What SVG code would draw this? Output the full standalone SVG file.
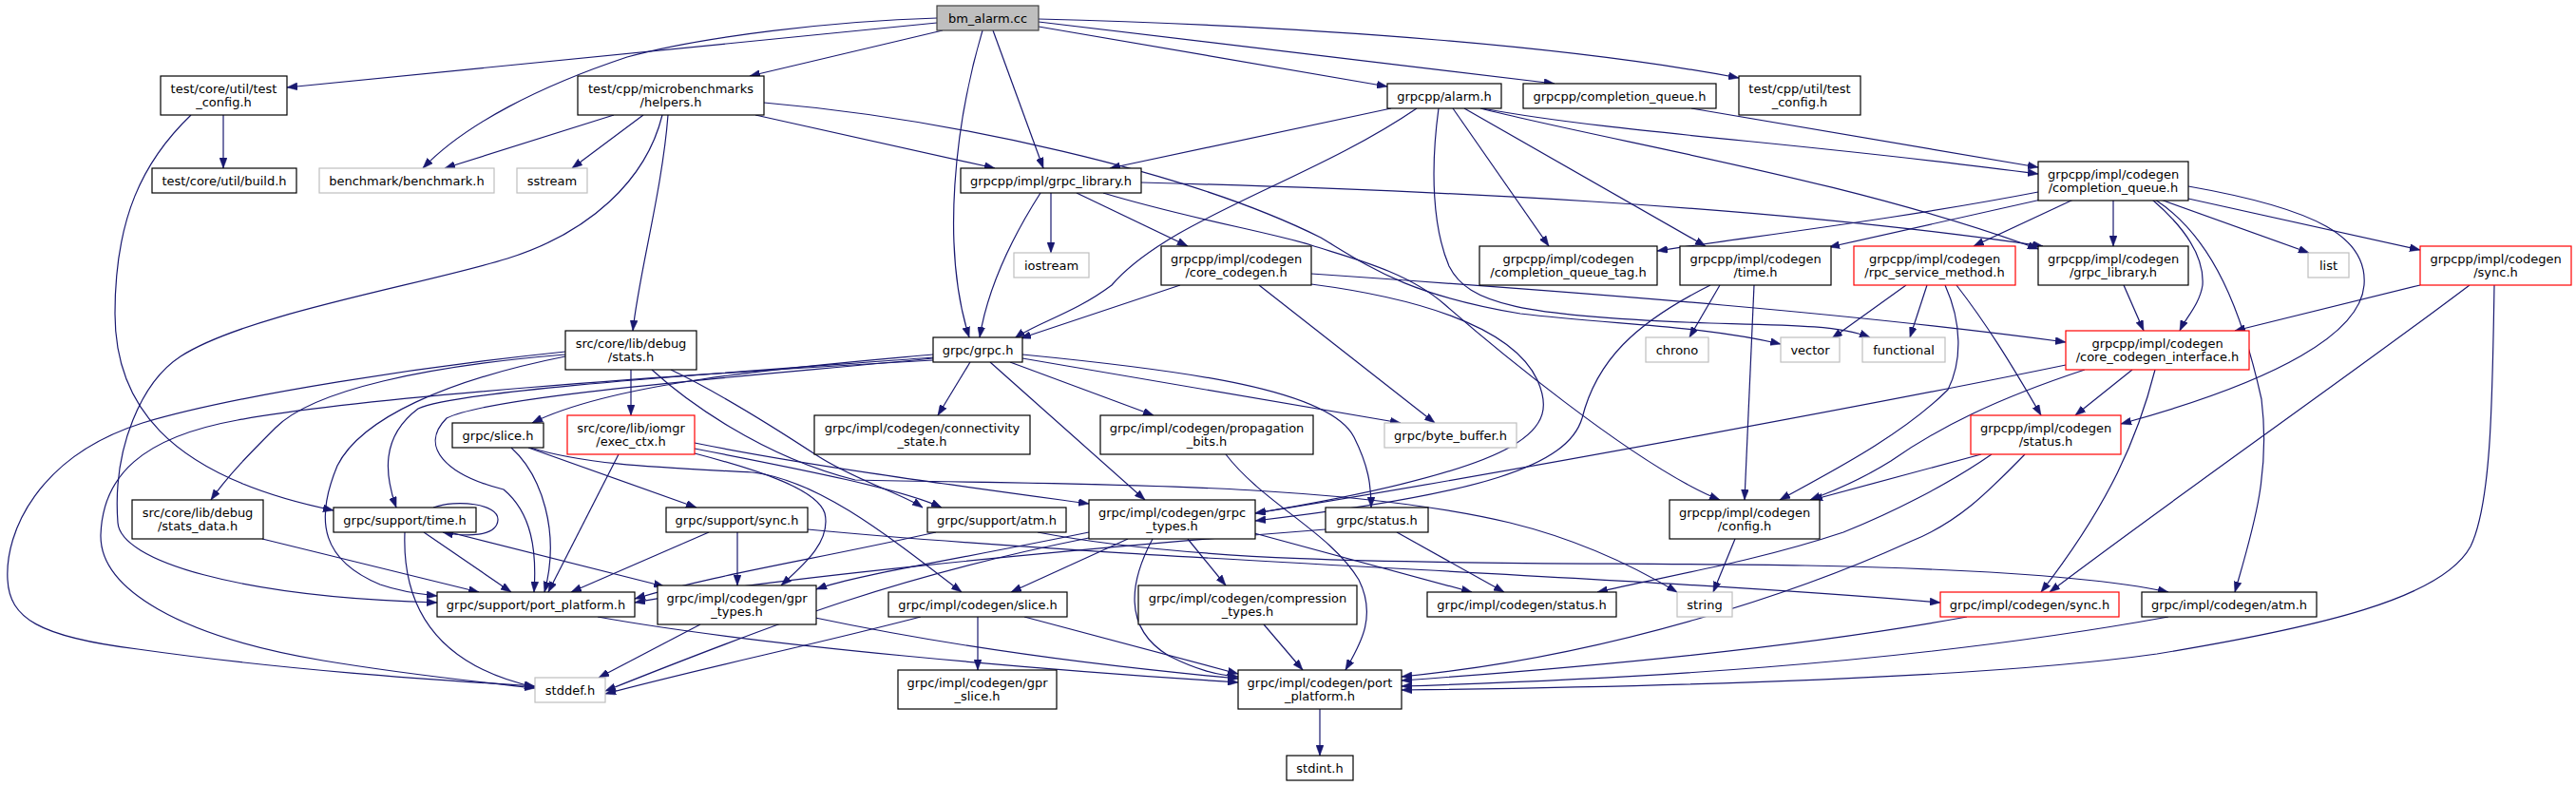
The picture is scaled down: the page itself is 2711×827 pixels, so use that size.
<svg xmlns="http://www.w3.org/2000/svg" width="2711" height="827" viewBox="0 0 2711 827">
<style>
.e path{fill:none;stroke:#191970;stroke-width:1.2;marker-end:url(#a)}
.n rect{fill:#fff;stroke:#000;stroke-width:1.2}
.n.g rect{stroke:#bfbfbf}
.n.r rect{stroke:#ff0000}
.n.root rect{fill:#bfbfbf;stroke:#404040}
text{font-family:"DejaVu Sans","Liberation Sans",sans-serif;font-size:13px;text-anchor:middle;fill:#000}
</style>
<defs>
<marker id="a" markerUnits="userSpaceOnUse" viewBox="0 0 11 8" refX="11" refY="4" markerWidth="11" markerHeight="8" orient="auto">
<path d="M0,0 L11,4 L0,8 z" fill="#191970" stroke="#191970" stroke-width="0.5"/>
</marker>
</defs>
<rect x="0" y="0" width="2711" height="827" fill="#fff"/>
<g id="edges" class="e">
<path d="M986,24 L302,92"/>
<path d="M986,19 C880,22 740,38 660,60 C570,90 490,130 445,177"/>
<path d="M992,32 L789,80"/>
<path d="M1034,32 C1005,130 990,260 1020,355"/>
<path d="M1045,32 L1098,177"/>
<path d="M1093,28 L1460,91"/>
<path d="M1093,23 L1636,88"/>
<path d="M1093,20 C1400,28 1660,50 1830,82"/>
<path d="M235,121 L235,177"/>
<path d="M201,121 C150,170 121,230 121,330 C121,420 170,500 351,537"/>
<path d="M646,121 L468,177"/>
<path d="M677,121 L602,177"/>
<path d="M697,121 C680,190 620,245 534,272 C448,299 260,330 190,375 C150,401 118,470 124,550 C127,590 250,628 460,634"/>
<path d="M703,121 C697,200 672,290 666,348"/>
<path d="M795,121 L1047,177"/>
<path d="M804,108 C1000,125 1250,180 1390,250 C1440,280 1480,310 1600,330 C1700,342 1790,342 1874,362"/>
<path d="M1464,114 L1168,177"/>
<path d="M1491,114 C1380,190 1230,230 1170,300 C1130,330 1090,340 1068,356"/>
<path d="M1514,114 C1505,180 1508,240 1525,280 C1545,320 1600,333 1800,340 C1880,342 1935,342 1968,355"/>
<path d="M1529,114 L1630,259"/>
<path d="M1541,114 L1795,259"/>
<path d="M1560,114 C1700,140 1900,150 2145,183"/>
<path d="M1558,114 C1700,150 1950,190 2145,262"/>
<path d="M1780,114 L2145,176"/>
<path d="M1095,203 C1065,250 1040,300 1031,355"/>
<path d="M1106,203 L1106,266"/>
<path d="M1133,203 L1250,259"/>
<path d="M1161,203 C1250,230 1340,245 1380,258 C1420,271 1480,285 1520,320 C1560,355 1720,490 1810,526"/>
<path d="M1201,192 C1500,200 1850,215 2150,259"/>
<path d="M2145,202 C2000,230 1850,248 1744,264"/>
<path d="M2148,210 L1925,260"/>
<path d="M2182,210 L2077,259"/>
<path d="M2224,210 L2224,259"/>
<path d="M2265,210 C2300,240 2320,270 2318,300 C2315,320 2300,335 2294,348"/>
<path d="M2268,210 C2330,250 2360,330 2380,420 C2390,500 2370,560 2352,623"/>
<path d="M2274,210 L2430,266"/>
<path d="M2303,196 C2440,220 2492,250 2488,300 C2484,350 2400,400 2232,446"/>
<path d="M2303,209 L2547,263"/>
<path d="M1242,300 L1074,356"/>
<path d="M1325,300 L1510,445"/>
<path d="M1380,288 C1700,310 1950,330 2174,360"/>
<path d="M1380,299 C1480,312 1590,340 1618,400 C1640,450 1620,490 1321,540"/>
<path d="M1810,300 L1778,355"/>
<path d="M1800,300 C1720,340 1680,380 1665,440 C1650,490 1560,520 1321,548"/>
<path d="M1846,300 L1836,526"/>
<path d="M2006,300 L1928,356"/>
<path d="M2028,300 L2010,355"/>
<path d="M2047,300 C2065,340 2065,380 2050,410 C2000,460 1920,500 1873,526"/>
<path d="M2059,300 C2090,340 2115,380 2148,437"/>
<path d="M2235,300 L2256,348"/>
<path d="M2547,300 L2352,348"/>
<path d="M2599,300 C2480,390 2300,515 2157,623"/>
<path d="M2625,300 C2623,420 2622,530 2600,575 C2570,630 2440,660 2270,688 C2100,712 1800,722 1475,726"/>
<path d="M2174,384 C2000,420 1600,495 1321,540"/>
<path d="M2194,389 C2100,420 2040,450 1990,485 C1950,510 1920,520 1905,526"/>
<path d="M2244,389 L2184,437"/>
<path d="M2268,389 C2250,460 2220,530 2148,623"/>
<path d="M2085,478 L1907,526"/>
<path d="M2096,478 C2050,510 1990,540 1940,560 C1850,590 1760,605 1681,623"/>
<path d="M2131,478 C2090,520 2060,550 2010,570 C1900,620 1700,690 1475,712"/>
<path d="M982,373 C850,385 650,400 560,445"/>
<path d="M982,376 C800,390 480,410 440,430 C400,460 405,500 417,534"/>
<path d="M982,377 C800,395 520,415 470,440 C440,470 470,500 530,515 C560,540 565,580 562,623"/>
<path d="M982,379 C700,395 380,418 250,442 C150,460 108,500 106,563 C105,620 190,670 340,695 C430,710 500,717 563,724"/>
<path d="M1021,381 L987,437"/>
<path d="M1042,381 L1205,526"/>
<path d="M1063,381 L1214,437"/>
<path d="M1076,377 L1474,445"/>
<path d="M1076,373 C1250,390 1400,410 1425,460 C1440,490 1443,510 1443,534"/>
<path d="M664,389 L664,437"/>
<path d="M595,370 C450,385 250,415 150,445 C40,480 5,560 8,610 C10,650 40,670 145,683 C300,705 450,715 563,722"/>
<path d="M595,373 C450,385 330,410 290,450 C265,475 240,500 222,526"/>
<path d="M595,375 C470,400 380,440 355,490 C330,550 340,590 400,615 C420,622 440,625 460,627"/>
<path d="M686,389 C720,420 800,480 900,505 C1100,510 1400,505 1589,550 C1650,565 1710,590 1765,623"/>
<path d="M706,389 C750,410 800,440 861,480 C900,505 950,520 971,534"/>
<path d="M731,466 C850,490 1000,510 1146,530"/>
<path d="M731,472 C850,495 950,515 991,534"/>
<path d="M731,477 C800,495 860,515 868,540 C875,570 845,595 822,616"/>
<path d="M651,478 L577,623"/>
<path d="M538,471 C570,500 590,560 573,623"/>
<path d="M556,471 L733,534"/>
<path d="M558,471 C620,490 700,492 792,497 C860,505 930,560 1012,623"/>
<path d="M276,567 L504,623"/>
<path d="M456,534 C480,525 525,530 524,547 C523,565 490,565 466,560"/>
<path d="M426,560 C423,640 460,700 563,723"/>
<path d="M446,560 L538,623"/>
<path d="M473,560 L699,617"/>
<path d="M746,560 L601,623"/>
<path d="M776,560 L776,616"/>
<path d="M850,557 C1200,590 1700,605 2042,634"/>
<path d="M985,560 C850,590 750,605 668,630"/>
<path d="M1092,560 C1300,600 1600,590 1900,595 C2050,598 2200,605 2282,623"/>
<path d="M1146,560 C1000,590 900,605 859,620"/>
<path d="M1187,567 L1064,623"/>
<path d="M1250,567 L1290,616"/>
<path d="M1320,561 L1549,623"/>
<path d="M1213,567 C1190,610 1180,660 1230,690 C1260,705 1280,710 1303,712"/>
<path d="M1146,566 C950,605 830,650 637,727"/>
<path d="M1395,557 C1100,580 800,610 668,634"/>
<path d="M1470,560 L1583,623"/>
<path d="M1826,567 L1803,623"/>
<path d="M629,649 C800,680 1100,705 1303,718"/>
<path d="M737,657 L630,713"/>
<path d="M858,650 C1000,680 1150,700 1303,714"/>
<path d="M1029,649 L1029,705"/>
<path d="M1078,649 L1303,709"/>
<path d="M969,649 C850,680 750,700 637,730"/>
<path d="M1330,657 L1371,705"/>
<path d="M1290,478 C1330,530 1400,560 1430,610 C1450,650 1430,680 1416,705"/>
<path d="M2070,649 C1900,680 1700,700 1475,716"/>
<path d="M2282,649 C2000,700 1700,715 1475,722"/>
<path d="M1389,746 L1389,795"/>
</g>
<g id="n0" class="n root"><rect x="986" y="6" width="107" height="26"/><text x="1039.5" y="23.5">bm_alarm.cc</text></g>
<g id="n1" class="n"><rect x="169" y="80" width="133" height="41"/><text x="235.5" y="97.5">test/core/util/test</text><text x="235.5" y="112">_config.h</text></g>
<g id="n2" class="n"><rect x="608" y="80" width="196" height="41"/><text x="706" y="97.5">test/cpp/microbenchmarks</text><text x="706" y="112">/helpers.h</text></g>
<g id="n3" class="n"><rect x="1460" y="88" width="120" height="26"/><text x="1520" y="105.5">grpcpp/alarm.h</text></g>
<g id="n4" class="n"><rect x="1603" y="88" width="203" height="26"/><text x="1704.5" y="105.5">grpcpp/completion_queue.h</text></g>
<g id="n5" class="n"><rect x="1830" y="80" width="128" height="41"/><text x="1894" y="97.5">test/cpp/util/test</text><text x="1894" y="112">_config.h</text></g>
<g id="n6" class="n"><rect x="160" y="177" width="152" height="26"/><text x="236" y="194.5">test/core/util/build.h</text></g>
<g id="n7" class="n g"><rect x="336" y="177" width="184" height="26"/><text x="428" y="194.5">benchmark/benchmark.h</text></g>
<g id="n8" class="n g"><rect x="544" y="177" width="74" height="26"/><text x="581" y="194.5">sstream</text></g>
<g id="n9" class="n"><rect x="1011" y="177" width="190" height="26"/><text x="1106" y="194.5">grpcpp/impl/grpc_library.h</text></g>
<g id="n10" class="n"><rect x="2145" y="170" width="158" height="41"/><text x="2224" y="187.5">grpcpp/impl/codegen</text><text x="2224" y="202">/completion_queue.h</text></g>
<g id="n11" class="n g"><rect x="1067" y="266" width="79" height="26"/><text x="1106.5" y="283.5">iostream</text></g>
<g id="n12" class="n"><rect x="1222" y="259" width="158" height="41"/><text x="1301" y="276.5">grpcpp/impl/codegen</text><text x="1301" y="291">/core_codegen.h</text></g>
<g id="n13" class="n"><rect x="1557" y="259" width="187" height="41"/><text x="1650.5" y="276.5">grpcpp/impl/codegen</text><text x="1650.5" y="291">/completion_queue_tag.h</text></g>
<g id="n14" class="n"><rect x="1768" y="259" width="159" height="41"/><text x="1847.5" y="276.5">grpcpp/impl/codegen</text><text x="1847.5" y="291">/time.h</text></g>
<g id="n15" class="n r"><rect x="1951" y="259" width="170" height="41"/><text x="2036" y="276.5">grpcpp/impl/codegen</text><text x="2036" y="291">/rpc_service_method.h</text></g>
<g id="n16" class="n"><rect x="2145" y="259" width="158" height="41"/><text x="2224" y="276.5">grpcpp/impl/codegen</text><text x="2224" y="291">/grpc_library.h</text></g>
<g id="n17" class="n g"><rect x="2429" y="266" width="43" height="26"/><text x="2450.5" y="283.5">list</text></g>
<g id="n18" class="n r"><rect x="2547" y="259" width="159" height="41"/><text x="2626.5" y="276.5">grpcpp/impl/codegen</text><text x="2626.5" y="291">/sync.h</text></g>
<g id="n19" class="n"><rect x="982" y="355" width="94" height="26"/><text x="1029" y="372.5">grpc/grpc.h</text></g>
<g id="n20" class="n g"><rect x="1732" y="355" width="66" height="26"/><text x="1765" y="372.5">chrono</text></g>
<g id="n21" class="n g"><rect x="1874" y="355" width="62" height="26"/><text x="1905" y="372.5">vector</text></g>
<g id="n22" class="n g"><rect x="1960" y="355" width="87" height="26"/><text x="2003.5" y="372.5">functional</text></g>
<g id="n23" class="n r"><rect x="2174" y="348" width="193" height="41"/><text x="2270.5" y="365.5">grpcpp/impl/codegen</text><text x="2270.5" y="380">/core_codegen_interface.h</text></g>
<g id="n24" class="n"><rect x="595" y="348" width="138" height="41"/><text x="664" y="365.5">src/core/lib/debug</text><text x="664" y="380">/stats.h</text></g>
<g id="n25" class="n"><rect x="476" y="445" width="96" height="26"/><text x="524" y="462.5">grpc/slice.h</text></g>
<g id="n26" class="n r"><rect x="597" y="437" width="134" height="41"/><text x="664" y="454.5">src/core/lib/iomgr</text><text x="664" y="469">/exec_ctx.h</text></g>
<g id="n27" class="n"><rect x="857" y="437" width="227" height="41"/><text x="970.5" y="454.5">grpc/impl/codegen/connectivity</text><text x="970.5" y="469">_state.h</text></g>
<g id="n28" class="n"><rect x="1158" y="437" width="224" height="41"/><text x="1270" y="454.5">grpc/impl/codegen/propagation</text><text x="1270" y="469">_bits.h</text></g>
<g id="n29" class="n g"><rect x="1457" y="445" width="139" height="26"/><text x="1526.5" y="462.5">grpc/byte_buffer.h</text></g>
<g id="n30" class="n r"><rect x="2074" y="437" width="158" height="41"/><text x="2153" y="454.5">grpcpp/impl/codegen</text><text x="2153" y="469">/status.h</text></g>
<g id="n31" class="n"><rect x="139" y="526" width="138" height="41"/><text x="208" y="543.5">src/core/lib/debug</text><text x="208" y="558">/stats_data.h</text></g>
<g id="n32" class="n"><rect x="351" y="534" width="150" height="26"/><text x="426" y="551.5">grpc/support/time.h</text></g>
<g id="n33" class="n"><rect x="701" y="534" width="149" height="26"/><text x="775.5" y="551.5">grpc/support/sync.h</text></g>
<g id="n34" class="n"><rect x="976" y="534" width="146" height="26"/><text x="1049" y="551.5">grpc/support/atm.h</text></g>
<g id="n35" class="n"><rect x="1146" y="526" width="175" height="41"/><text x="1233.5" y="543.5">grpc/impl/codegen/grpc</text><text x="1233.5" y="558">_types.h</text></g>
<g id="n36" class="n"><rect x="1395" y="534" width="108" height="26"/><text x="1449" y="551.5">grpc/status.h</text></g>
<g id="n37" class="n"><rect x="1757" y="526" width="158" height="41"/><text x="1836" y="543.5">grpcpp/impl/codegen</text><text x="1836" y="558">/config.h</text></g>
<g id="n38" class="n"><rect x="460" y="623" width="208" height="26"/><text x="564" y="640.5">grpc/support/port_platform.h</text></g>
<g id="n39" class="n"><rect x="692" y="616" width="167" height="41"/><text x="775.5" y="633.5">grpc/impl/codegen/gpr</text><text x="775.5" y="648">_types.h</text></g>
<g id="n40" class="n"><rect x="935" y="623" width="188" height="26"/><text x="1029" y="640.5">grpc/impl/codegen/slice.h</text></g>
<g id="n41" class="n"><rect x="1198" y="616" width="230" height="41"/><text x="1313" y="633.5">grpc/impl/codegen/compression</text><text x="1313" y="648">_types.h</text></g>
<g id="n42" class="n"><rect x="1502" y="623" width="199" height="26"/><text x="1601.5" y="640.5">grpc/impl/codegen/status.h</text></g>
<g id="n43" class="n g"><rect x="1765" y="623" width="58" height="26"/><text x="1794" y="640.5">string</text></g>
<g id="n44" class="n r"><rect x="2042" y="623" width="188" height="26"/><text x="2136" y="640.5">grpc/impl/codegen/sync.h</text></g>
<g id="n45" class="n"><rect x="2254" y="623" width="184" height="26"/><text x="2346" y="640.5">grpc/impl/codegen/atm.h</text></g>
<g id="n46" class="n g"><rect x="563" y="713" width="74" height="26"/><text x="600" y="730.5">stddef.h</text></g>
<g id="n47" class="n"><rect x="945" y="705" width="167" height="41"/><text x="1028.5" y="722.5">grpc/impl/codegen/gpr</text><text x="1028.5" y="737">_slice.h</text></g>
<g id="n48" class="n"><rect x="1303" y="705" width="172" height="41"/><text x="1389" y="722.5">grpc/impl/codegen/port</text><text x="1389" y="737">_platform.h</text></g>
<g id="n49" class="n"><rect x="1354" y="795" width="70" height="26"/><text x="1389" y="812.5">stdint.h</text></g>
</svg>
